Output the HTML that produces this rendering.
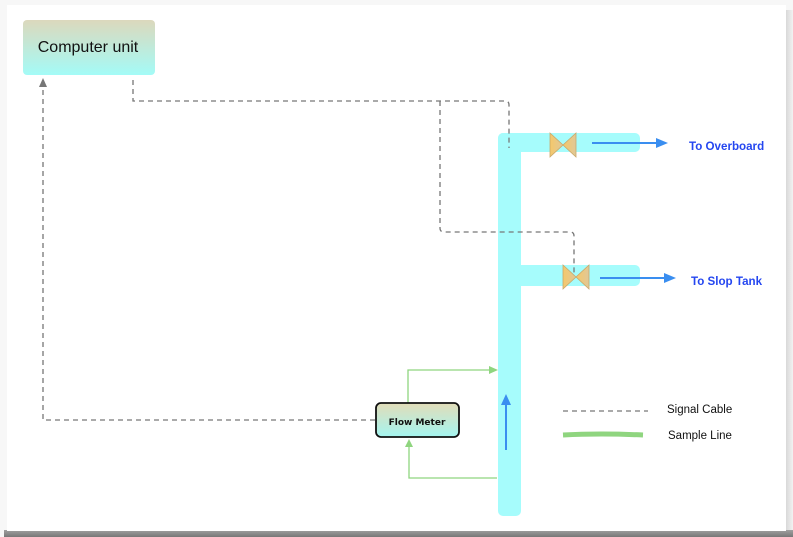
<!DOCTYPE html>
<html><head><meta charset="utf-8"><style>
html,body{margin:0;padding:0;width:793px;height:537px;overflow:hidden;background:#f4f4f4}
svg{display:block}
</style></head><body>
<svg width="793" height="537" xmlns="http://www.w3.org/2000/svg">
<defs>
<linearGradient id="sr" x1="0" x2="1"><stop offset="0" stop-color="#d8d8d8"/><stop offset="1" stop-color="#f2f2f2"/></linearGradient>
<linearGradient id="sb" x1="0" y1="0" x2="0" y2="1"><stop offset="0" stop-color="#a0a0a0"/><stop offset="1" stop-color="#777"/></linearGradient>
<linearGradient id="cu" x1="0" y1="0" x2="0" y2="1"><stop offset="0" stop-color="#dcd8bc"/><stop offset="1" stop-color="#a4fbf7"/></linearGradient>
<linearGradient id="fm" x1="0" y1="0" x2="0" y2="1"><stop offset="0" stop-color="#e2dcb8"/><stop offset="1" stop-color="#a4f5f0"/></linearGradient>
<linearGradient id="vl" x1="0" x2="1"><stop offset="0" stop-color="#f5c86a"/><stop offset="1" stop-color="#e0c898"/></linearGradient>
</defs>
<rect x="0" y="0" width="793" height="537" fill="#f7f7f7"/>
<rect x="786" y="10" width="7" height="527" fill="url(#sr)"/>
<rect x="4" y="530" width="789" height="7" fill="url(#sb)"/>
<rect x="7" y="5" width="779" height="526" fill="#fff"/>
<rect x="23" y="20" width="132" height="55" rx="4" fill="url(#cu)"/>
<text x="88" y="52" font-family="Liberation Sans, sans-serif" font-size="16" text-anchor="middle" fill="#111">Computer unit</text>
<g fill="#a6fcfc">
<rect x="498" y="133" width="23" height="383" rx="5"/>
<rect x="498" y="133" width="142" height="19" rx="5"/>
<rect x="515" y="265" width="125" height="21" rx="5"/>
</g>
<g fill="none" stroke="#777" stroke-width="1.3" stroke-dasharray="5,4">
<path d="M133 80 V101 H505 Q509 101 509 105 V148"/>
<path d="M440 101 V228 Q440 232 444 232 H570 Q574 232 574 236 V275"/>
<path d="M375 420 H43 V84"/>
<path d="M563 411 H648"/>
</g>
<path d="M43 78 L39 87 L47 87 Z" fill="#777"/>
<g stroke="#c9a86a" stroke-width="0.8" fill="url(#vl)">
<path d="M550 133 L563 145 L550 157 Z"/><path d="M576 133 L563 145 L576 157 Z"/>
<path d="M563 265 L576 277 L563 289 Z"/><path d="M589 265 L576 277 L589 289 Z"/>
</g>
<g stroke="#3a8ef0" stroke-width="2" fill="#3a8ef0">
<line x1="592" y1="143" x2="660" y2="143"/><path d="M668 143 L656 138 L656 148 Z" stroke="none"/>
<line x1="600" y1="278" x2="668" y2="278"/><path d="M676 278 L664 273 L664 283 Z" stroke="none"/>
<line x1="506" y1="450" x2="506" y2="402"/><path d="M506 394 L501 405 L511 405 Z" stroke="none"/>
</g>
<text x="689" y="150" font-family="Liberation Sans, sans-serif" font-size="11.6" font-weight="bold" fill="#2446f0">To Overboard</text>
<text x="691" y="285" font-family="Liberation Sans, sans-serif" font-size="11.6" font-weight="bold" fill="#2446f0">To Slop Tank</text>
<g fill="none" stroke="#8fd57f" stroke-width="1.3">
<path d="M408 403 V370 H490"/>
<path d="M497 478 H409 V446"/>
</g>
<path d="M498 370 L489 366 L489 374 Z" fill="#8fd57f"/>
<path d="M409 439 L405 447 L413 447 Z" fill="#8fd57f"/>
<path d="M563 435 Q600 433 643 435" stroke="#8fd57f" stroke-width="5" fill="none"/>
<rect x="376" y="403" width="83" height="34" rx="5" fill="url(#fm)" stroke="#111" stroke-width="1.8"/>
<text x="417" y="425" font-family="DejaVu Sans, sans-serif" font-size="9" font-weight="bold" text-anchor="middle" fill="#111">Flow Meter</text>
<text x="667" y="413" font-family="Liberation Sans, sans-serif" font-size="11.5" fill="#111">Signal Cable</text>
<text x="668" y="439" font-family="Liberation Sans, sans-serif" font-size="11.5" fill="#111">Sample Line</text>
</svg>
</body></html>
